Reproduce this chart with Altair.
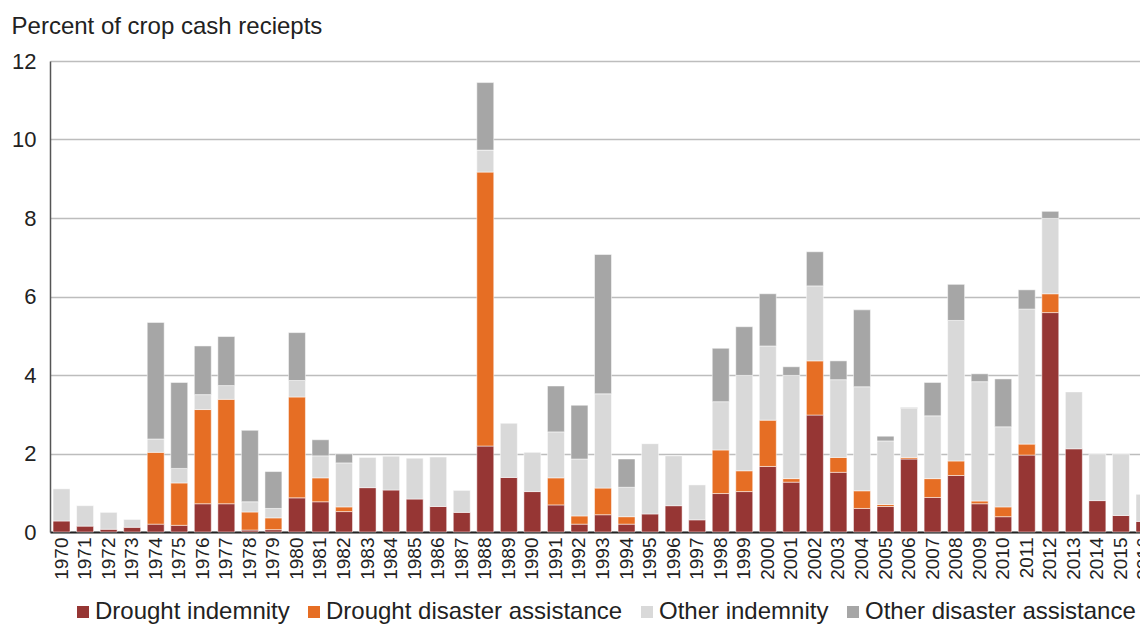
import altair as alt
import pandas as pd

years = list(range(1970, 2017))

drought_indemnity = [
    0.28, 0.15, 0.07, 0.12, 0.20, 0.17, 0.72, 0.72, 0.05, 0.06,
    0.87, 0.77, 0.52, 1.13, 1.07, 0.84, 0.65, 0.50, 2.19, 1.39,
    1.03, 0.69, 0.20, 0.44, 0.20, 0.46, 0.67, 0.31, 0.98, 1.03,
    1.67, 1.27, 2.98, 1.52, 0.60, 0.65, 1.86, 0.88, 1.44, 0.72,
    0.39, 1.96, 5.59, 2.12, 0.80, 0.42, 0.27,
]
drought_disaster = [
    0.00, 0.00, 0.00, 0.00, 1.83, 1.08, 2.40, 2.66, 0.46, 0.30,
    2.57, 0.61, 0.12, 0.00, 0.00, 0.00, 0.00, 0.00, 6.98, 0.00,
    0.00, 0.69, 0.21, 0.68, 0.19, 0.00, 0.00, 0.00, 1.11, 0.53,
    1.18, 0.09, 1.38, 0.38, 0.45, 0.05, 0.04, 0.48, 0.37, 0.07,
    0.25, 0.28, 0.48, 0.00, 0.00, 0.00, 0.00,
]
other_indemnity = [
    0.82, 0.52, 0.43, 0.20, 0.34, 0.37, 0.38, 0.35, 0.26, 0.24,
    0.42, 0.56, 1.12, 0.77, 0.86, 1.04, 1.26, 0.56, 0.56, 1.38,
    1.00, 1.17, 1.45, 2.40, 0.75, 1.79, 1.27, 0.89, 1.23, 2.43,
    1.89, 2.63, 1.91, 1.98, 2.65, 1.62, 1.25, 1.60, 3.58, 3.04,
    2.04, 3.44, 1.92, 1.45, 1.19, 1.57, 0.69,
]
other_disaster = [
    0.00, 0.00, 0.00, 0.00, 2.97, 2.19, 1.24, 1.25, 1.82, 0.94,
    1.22, 0.41, 0.23, 0.00, 0.00, 0.00, 0.00, 0.00, 1.72, 0.00,
    0.00, 1.17, 1.37, 3.55, 0.72, 0.00, 0.00, 0.00, 1.36, 1.24,
    1.33, 0.22, 0.87, 0.48, 1.96, 0.12, 0.02, 0.85, 0.92, 0.20,
    1.22, 0.49, 0.18, 0.00, 0.00, 0.00, 0.00,
]

series_names = [
    "Drought indemnity",
    "Drought disaster assistance",
    "Other indemnity",
    "Other disaster assistance",
]
series_colors = ["#963634", "#E66E24", "#D9D9D9", "#A6A6A6"]
y_ticks = [0, 2, 4, 6, 8, 10, 12]

rows = []
for i, yr in enumerate(years):
    for k, vals in enumerate([drought_indemnity, drought_disaster, other_indemnity, other_disaster]):
        rows.append({"year": str(yr), "series": series_names[k], "value": vals[i], "rank": k})
df = pd.DataFrame(rows)

chart = (
    alt.Chart(df)
    .transform_filter("datum.value > 0")
    .mark_bar(stroke="white", strokeWidth=0.5)
    .encode(
        x=alt.X(
            "year:N",
            sort=[str(y) for y in years],
            scale=alt.Scale(paddingInner=0.28, paddingOuter=0.13, range=[0, 1106]),
            axis=alt.Axis(
                title=None, labelAngle=-90, labelFontSize=19, ticks=False,
                domainColor="#222222", domainWidth=2, labelPadding=5,
                labelColor="#222222",
            ),
        ),
        y=alt.Y(
            "value:Q",
            stack="zero",
            scale=alt.Scale(domain=[0, 12], nice=False),
            axis=alt.Axis(
                title=None, values=y_ticks, ticks=False, labelFontSize=22,
                labelPadding=14, labelColor="#222222", gridColor="#BDBDBD",
                gridWidth=1.5, domainColor="#555555", domainWidth=1.5,
            ),
        ),
        color=alt.Color(
            "series:N",
            scale=alt.Scale(domain=series_names, range=series_colors),
            legend=alt.Legend(
                title=None, orient="none", legendX=21, legendY=539,
                direction="horizontal", columns=4, symbolType="square",
                symbolSize=144, symbolStrokeWidth=0, labelFontSize=24,
                labelOffset=0, columnPadding=12, labelColor="#222222",
                labelLimit=0, padding=0,
            ),
        ),
        order=alt.Order("rank:Q", sort="ascending"),
    )
    .properties(
        width=1090,
        height=471,
        autosize=alt.AutoSizeParams(type="none"),
        padding={"left": 42, "top": 53, "right": 0, "bottom": 92},
        title=alt.Title(
            "Percent of crop cash reciepts", anchor="start", fontSize=24,
            fontWeight="normal", color="#222222", offset=11,
        ),
    )
    .configure(font="Liberation Sans")
    .configure_view(stroke=None)
)

chart.save("out.html", embed_options={"renderer": "svg", "actions": False})
